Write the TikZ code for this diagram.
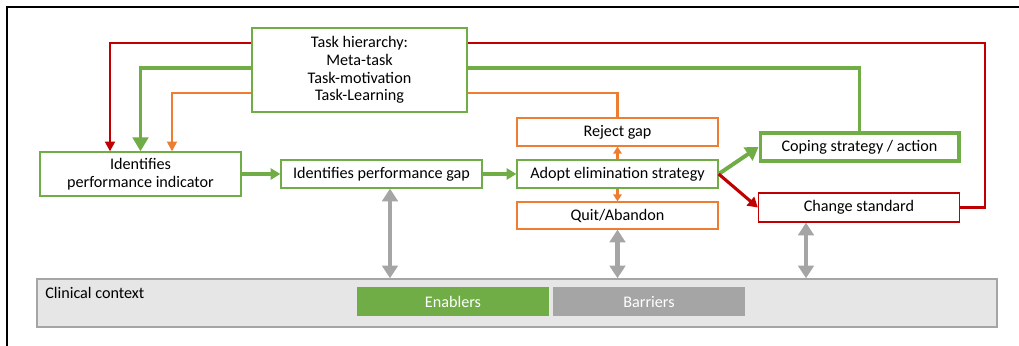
\documentclass[tikz,border=0pt]{standalone}
\usepackage{fontspec}
\setmainfont{Carlito}
\usetikzlibrary{arrows.meta}
\definecolor{cgreen}{HTML}{70AD47}
\definecolor{corange}{HTML}{ED7D31}
\definecolor{cred}{HTML}{C00000}
\definecolor{cgray}{HTML}{A5A5A5}
\definecolor{clight}{HTML}{E7E6E6}
\tikzset{
  box/.style={draw, fill=white, line width=0.9pt, minimum width=5.025cm,
    minimum height=0.7cm, inner sep=1pt, align=center,
    font=\fontsize{11.5}{12.5}\selectfont},
  redline/.style={cred, line width=1.9pt},
  greenline/.style={cgreen, line width=2.8pt},
  orangeline/.style={corange, line width=1.6pt},
  twoway/.style={cgray, line width=3.5pt,
    {Triangle[length=9pt,width=11pt]}-{Triangle[length=9pt,width=11pt]}},
}
\begin{document}
\begin{tikzpicture}[x=0.025cm, y=-0.025cm]
    \useasboundingbox (0,0) rectangle (1019,346);
    \draw[line width=1.4pt] (7,346) -- (7,7) -- (1019,7);

    % Context band
    \node[draw=cgray, fill=clight, line width=1pt, minimum width=24cm,
      minimum height=1.2cm, inner sep=0pt] (context) at (517,303) {};
    \node[anchor=west, font=\fontsize{11.5}{12.5}\selectfont, inner sep=0pt]
      (ctxlabel) at (45,293) {Clinical context};
    \node[fill=cgreen, text=white, minimum width=4.8cm, minimum height=0.725cm,
      font=\fontsize{11.5}{12.5}\selectfont] (enablers) at (453,301.5) {Enablers};
    \node[fill=cgray, text=white, minimum width=4.8cm, minimum height=0.725cm,
      font=\fontsize{11.5}{12.5}\selectfont] (barriers) at (649,301.5) {Barriers};

    % Core nodes
    \node[box, draw=cgreen, minimum width=5.375cm, minimum height=2.1cm]
      (task) at (359.5,70) {Task hierarchy:\\Meta-task\\Task-motivation\\Task-Learning};
    \node[box, draw=cgreen, minimum height=1.1cm] (indicator) at (140.5,174)
      {Identifies\\performance indicator};
    \node[box, draw=cgreen] (gap) at (381.5,174) {Identifies performance gap};
    \node[box, draw=cgreen] (adopt) at (617.5,174) {Adopt elimination strategy};
    \node[box, draw=corange] (reject) at (617.5,132) {Reject gap};
    \node[box, draw=corange, minimum height=0.675cm] (quit) at (617.5,215.5) {Quit/Abandon};
    \node[box, draw=cgreen, line width=2.8pt, minimum width=4.95cm,
      minimum height=0.68cm] (coping) at (859.5,147) {Coping strategy / action};
    \node[box, draw=cred, minimum height=0.725cm] (change) at (859,207.5) {Change standard};

    % Feedback loops
    \draw[redline, -{Triangle[length=7pt,width=7pt]}]
      (task.west |- 0,43) -| (indicator.north -| 110,0);
    \draw[greenline, -{Triangle[length=10pt,width=11pt]}]
      (task.west |- 0,68) -| (indicator.north);
    \draw[orangeline, -{Triangle[length=7pt,width=7pt]}]
      (task.west |- 0,93) -| (indicator.north -| 172,0);
    \draw[redline] (task.east |- 0,43) -| (985,0 |- change.east) -- (change.east);
    \draw[greenline] (task.east |- 0,68) -| (coping.north);
    \draw[orangeline] (task.east |- 0,93) -| (reject.north);

    % Main flow
    \draw[cgreen, line width=2.2pt, -{Triangle[length=7pt,width=8pt]}]
      (indicator.east |- gap) -- (gap.west);
    \draw[cgreen, line width=2.2pt, -{Triangle[length=7pt,width=8pt]}]
      (gap.east) -- (adopt.west);
    \draw[greenline, -{Triangle[length=9pt,width=11pt]}] (adopt.east) -- (coping.west);
    \draw[redline, line width=2.2pt, -{Triangle[length=7pt,width=8pt]}] (adopt.east) -- (change.west);
    \draw[orangeline, -{Triangle[length=5pt,width=6pt]}] (adopt.north) -- (reject.south);
    \draw[orangeline, -{Triangle[length=5pt,width=6pt]}] (adopt.south) -- (quit.north);

    % Links to the context
    \foreach \src/\xpos in {gap/390, quit/617.5, change/806} {
        \draw[twoway] (\src.south -| \xpos,0) -- (context.north -| \xpos,0);
    }
\end{tikzpicture}
\end{document}
